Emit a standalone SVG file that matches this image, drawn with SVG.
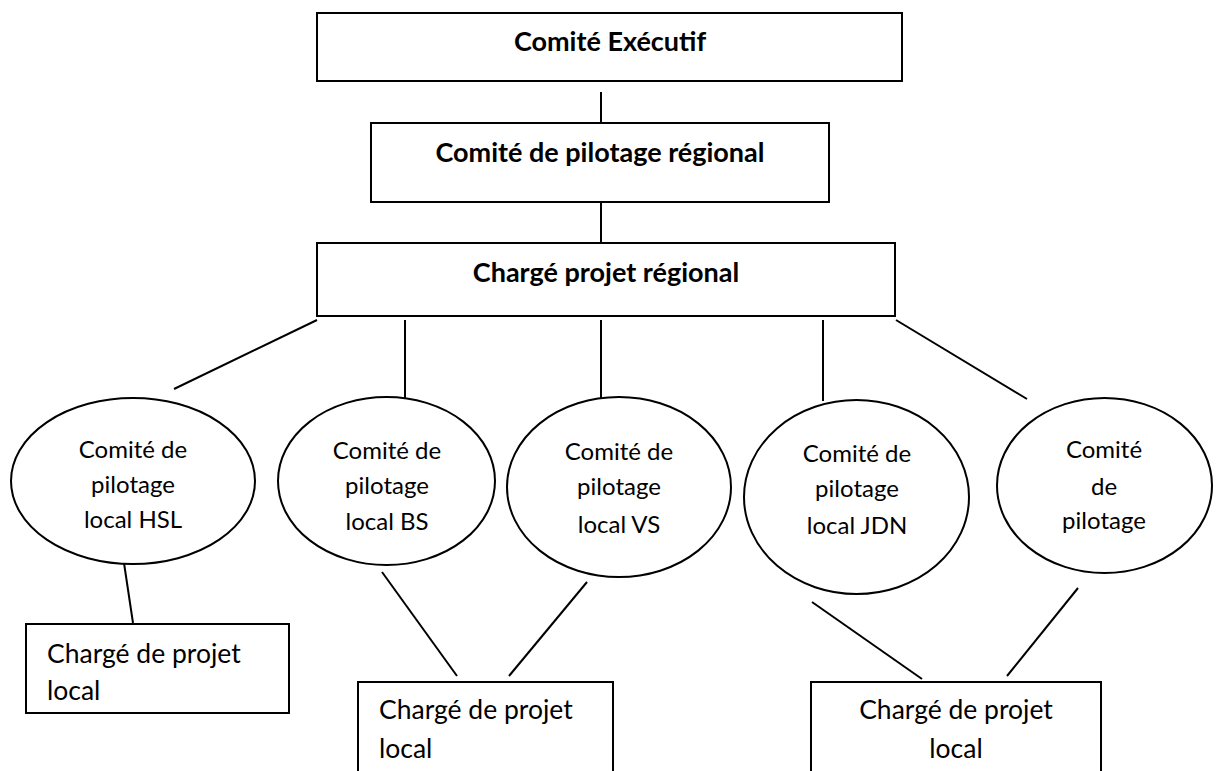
<svg xmlns="http://www.w3.org/2000/svg" width="1218" height="771" viewBox="0 0 1218 771">
<style>
.box{fill:#fff;stroke:#000;stroke-width:2}
.ell{fill:#fff;stroke:#000;stroke-width:2}
.ln{stroke:#000;stroke-width:2;fill:none}
.tb{font-family:Lato,"Liberation Sans",sans-serif;font-weight:bold;font-size:27px;fill:#000;text-anchor:middle}
.te{font-family:Lato,"Liberation Sans",sans-serif;font-size:24px;fill:#000;text-anchor:middle}
.tl{font-family:Lato,"Liberation Sans",sans-serif;font-size:26.5px;fill:#000}
</style>
<rect width="1218" height="771" fill="#fff"/>
<g id="connectors">
<line class="ln" x1="601" y1="92" x2="601" y2="123"/>
<line class="ln" x1="601" y1="202" x2="601" y2="243"/>
<line class="ln" x1="317" y1="320" x2="174" y2="389"/>
<line class="ln" x1="405" y1="320" x2="405" y2="398"/>
<line class="ln" x1="601" y1="320" x2="601" y2="398"/>
<line class="ln" x1="823" y1="320" x2="823" y2="401"/>
<line class="ln" x1="896" y1="320" x2="1027" y2="399"/>
<line class="ln" x1="124" y1="563" x2="133" y2="623"/>
<line class="ln" x1="382" y1="572" x2="457" y2="676"/>
<line class="ln" x1="587" y1="582" x2="509" y2="676"/>
<line class="ln" x1="812" y1="602" x2="922" y2="679"/>
<line class="ln" x1="1078" y1="588" x2="1007" y2="676"/>
</g>
<g id="comite-executif">
<rect class="box" x="317" y="13" width="585" height="68"/>
<text class="tb" x="610" y="51">Comité Exécutif</text>
</g>
<g id="comite-pilotage-regional">
<rect class="box" x="371" y="123" width="458" height="79"/>
<text class="tb" x="600" y="162">Comité de pilotage régional</text>
</g>
<g id="charge-projet-regional">
<rect class="box" x="317" y="243" width="578" height="73"/>
<text class="tb" x="606" y="282">Chargé projet régional</text>
</g>
<g id="cpl-hsl">
<ellipse class="ell" cx="133" cy="481" rx="122" ry="83"/>
<text class="te" x="133" y="458">Comité de</text>
<text class="te" x="133" y="493">pilotage</text>
<text class="te" x="133" y="528">local HSL</text>
</g>
<g id="cpl-bs">
<ellipse class="ell" cx="386.5" cy="481" rx="108.5" ry="84"/>
<text class="te" x="387" y="459">Comité de</text>
<text class="te" x="387" y="494">pilotage</text>
<text class="te" x="387" y="530">local BS</text>
</g>
<g id="cpl-vs">
<ellipse class="ell" cx="619" cy="487" rx="112" ry="90"/>
<text class="te" x="619" y="460">Comité de</text>
<text class="te" x="619" y="495">pilotage</text>
<text class="te" x="619" y="533">local VS</text>
</g>
<g id="cpl-jdn">
<ellipse class="ell" cx="856.5" cy="497" rx="112.5" ry="97"/>
<text class="te" x="857" y="462">Comité de</text>
<text class="te" x="857" y="497">pilotage</text>
<text class="te" x="857" y="534">local JDN</text>
</g>
<g id="cp">
<ellipse class="ell" cx="1104.5" cy="485.5" rx="107.5" ry="87.5"/>
<text class="te" x="1104" y="458">Comité</text>
<text class="te" x="1104" y="495">de</text>
<text class="te" x="1104" y="529">pilotage</text>
</g>
<g id="cpl-local-1">
<rect class="box" x="26" y="624" width="263" height="89"/>
<text class="tl" x="47" y="663">Chargé de projet</text>
<text class="tl" x="47" y="700">local</text>
</g>
<g id="cpl-local-2">
<rect class="box" x="358" y="682" width="255" height="110"/>
<text class="tl" x="379" y="719">Chargé de projet</text>
<text class="tl" x="379" y="758">local</text>
</g>
<g id="cpl-local-3">
<rect class="box" x="811" y="682" width="290" height="110"/>
<text class="tl" x="956" y="719" text-anchor="middle">Chargé de projet</text>
<text class="tl" x="956" y="758" text-anchor="middle">local</text>
</g>
</svg>
